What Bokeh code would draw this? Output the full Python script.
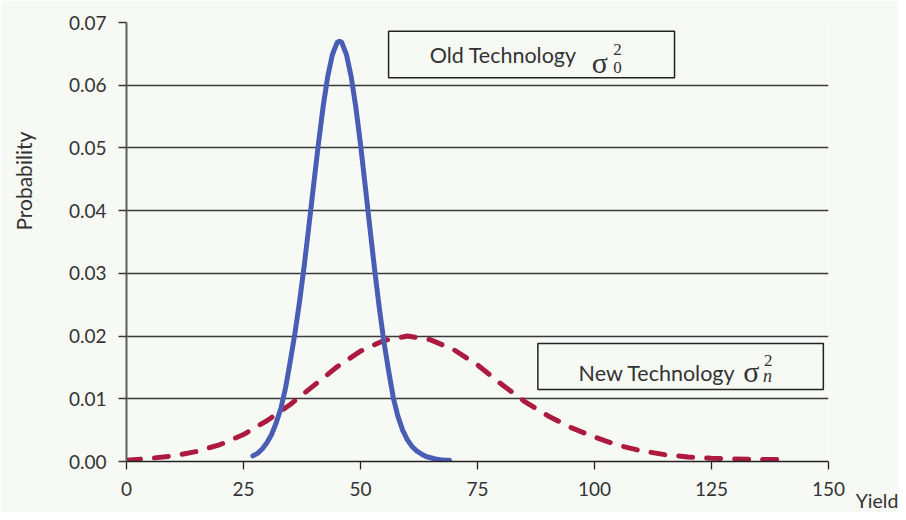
import numpy as np
from bokeh.plotting import figure
from bokeh.models import Label, BoxAnnotation, FixedTicker, Range1d
from bokeh.embed import file_html
from bokeh.resources import INLINE

# ---- data ----
old_x = [27, 28, 29, 30, 31, 32, 33, 34, 35, 36, 37, 38, 39, 40, 41, 42, 43, 44, 45, 45.5, 46,
         47, 48, 49, 50, 51, 52, 53, 54, 55, 56, 57, 58, 59, 60, 61, 62, 63, 64, 65, 66, 67, 68, 69]
old_y = [0.0009, 0.0013, 0.0020, 0.0030, 0.0043, 0.0062, 0.0085, 0.0118, 0.0160, 0.0205, 0.0256,
         0.0314, 0.0377, 0.0442, 0.0506, 0.0565, 0.0614, 0.0649, 0.0668, 0.0670, 0.0668,
         0.0649, 0.0614, 0.0565, 0.0506, 0.0440, 0.0373, 0.0307, 0.0246, 0.0191, 0.0145,
         0.0102, 0.0072, 0.0050, 0.0035, 0.0024, 0.0017, 0.0012, 0.0008, 0.0006, 0.0004,
         0.0003, 0.0002, 0.0002]

new_x = [0, 5, 10, 15, 20, 25, 30, 35, 40, 45, 50, 55, 60, 65, 70, 75, 80, 85, 90, 95,
         100, 105, 110, 115, 120, 125, 130, 135, 140]
new_y = [0.0002, 0.0005, 0.0009, 0.0016, 0.0027, 0.0043, 0.0065, 0.0091, 0.0121, 0.0151, 0.0176,
         0.0193, 0.0200, 0.0194, 0.0178, 0.0154, 0.0124, 0.0096, 0.0073, 0.0054, 0.0039, 0.0026,
         0.0017, 0.0011, 0.0007, 0.0005, 0.0004, 0.0003, 0.0003]

x_ticks = [0, 25, 50, 75, 100, 125, 150]
y_ticks = [0.00, 0.01, 0.02, 0.03, 0.04, 0.05, 0.06, 0.07]
y_tick_labels = ["0.00", "0.01", "0.02", "0.03", "0.04", "0.05", "0.06", "0.07"]

BG = "#f7f9f5"
BLUE = "#4a5db4"
RED = "#ad1a3f"
FONT = "Lato"
SERIF = "Liberation Serif"

p = figure(width=898, height=512, output_backend="svg", toolbar_location=None,
           x_range=Range1d(0, 150), y_range=Range1d(0, 0.07),
           min_border_left=126, min_border_right=70, min_border_top=22, min_border_bottom=51)
p.background_fill_color = BG
p.border_fill_color = BG
p.outline_line_color = None

p.xgrid.visible = False
p.ygrid.ticker = FixedTicker(ticks=y_ticks)
p.ygrid.grid_line_color = "#3a3a3a"
p.ygrid.grid_line_width = 1.3

p.xaxis.ticker = FixedTicker(ticks=x_ticks)
p.yaxis.ticker = FixedTicker(ticks=y_ticks)
p.yaxis.major_label_overrides = {t: l for t, l in zip(y_ticks, y_tick_labels)}
for ax in (p.xaxis[0], p.yaxis[0]):
    ax.minor_tick_line_color = None
    ax.major_tick_in = 0
    ax.major_tick_out = 8
    ax.major_label_text_font = FONT
    ax.major_label_text_font_size = "19px"
    ax.major_label_text_color = "#333333"
    ax.major_label_standoff = 12
p.xaxis.axis_line_color = "#222222"
p.xaxis.axis_line_width = 1.3
p.xaxis.major_tick_line_color = "#222222"
p.xaxis.major_tick_line_width = 1.3
p.yaxis.axis_line_color = "#5f5f5f"
p.yaxis.axis_line_width = 2
p.yaxis.major_tick_line_color = "#3a3a3a"
p.yaxis.major_tick_line_width = 1.3

p.line(new_x, new_y, line_color=RED, line_width=5, line_dash="14 14", line_cap="round", line_join="round")
p.line(old_x, old_y, line_color=BLUE, line_width=5, line_join="round", line_cap="round")

# boxes
p.add_layout(BoxAnnotation(left=56.0, right=117.1, bottom=0.0612, top=0.0686,
                           fill_color=BG, fill_alpha=1, line_color="#222222", line_alpha=1, line_width=1.5))
p.add_layout(BoxAnnotation(left=87.9, right=148.9, bottom=0.0115, top=0.0188,
                           fill_color=BG, fill_alpha=1, line_color="#222222", line_alpha=1, line_width=1.5))

def mk(x, y, t, font=FONT, size="21px", style="normal", align="left", baseline="middle", angle=0):
    return Label(x=x, y=y, text=t, text_font=font, text_font_size=size, text_font_style=style,
                 text_color="#333333", text_align=align, text_baseline=baseline, angle=angle)

def lab(*a, **k):
    p.add_layout(mk(*a, **k))

lab(64.8, 0.06477, "Old Technology", size="21.5px")
lab(99.4, 0.06362, "σ", font=SERIF, size="30px")
lab(104.0, 0.06569, "2", font=SERIF, size="17px")
lab(104.0, 0.06288, "0", font=SERIF, size="17px")

lab(96.6, 0.01411, "New Technology", size="21.5px")
lab(131.8, 0.01435, "σ", font=SERIF, size="30px")
lab(136.2, 0.01618, "2", font=SERIF, size="17px")
lab(136.0, 0.01371, "n", font=SERIF, size="18px", style="italic")

# axis titles live in the side panels so they are not clipped to the frame
p.add_layout(mk(155.8, -0.00625, "Yield", size="19.5px"), "right")
p.add_layout(mk(-22.0, 0.0447, "Probability", size="21px", align="center", angle=np.pi / 2), "left")

open("out.html", "w").write(file_html(p, INLINE))
